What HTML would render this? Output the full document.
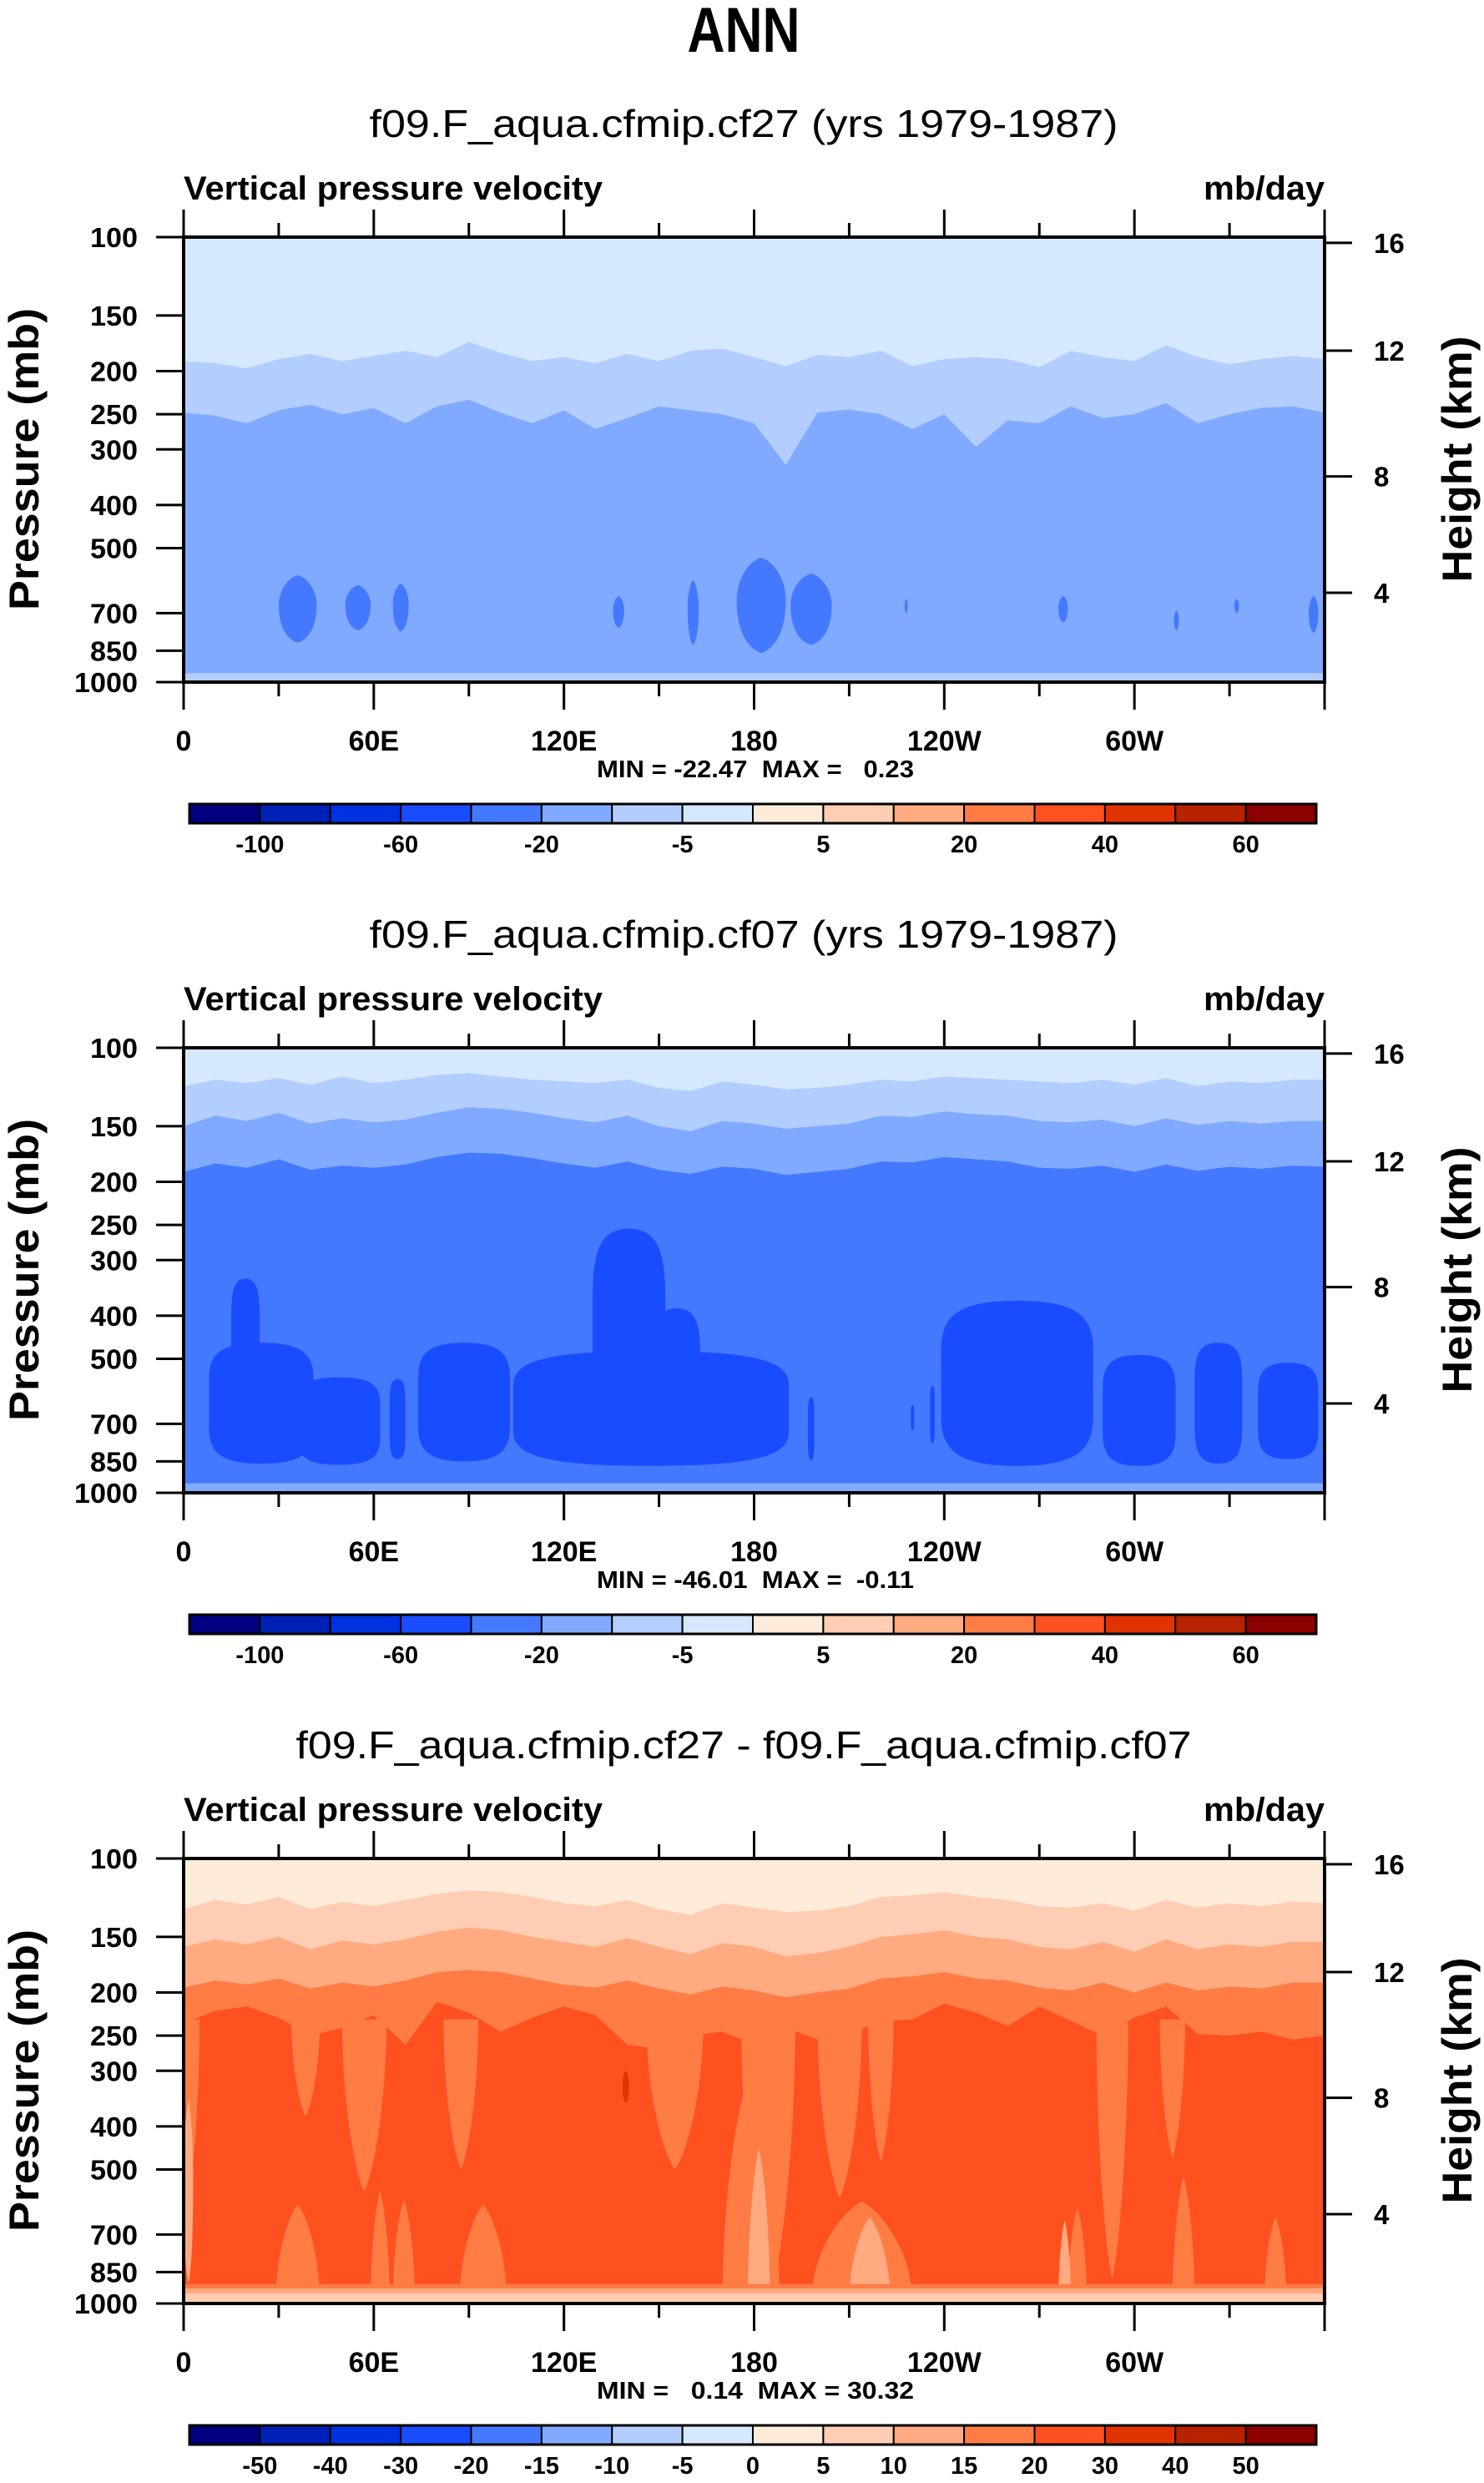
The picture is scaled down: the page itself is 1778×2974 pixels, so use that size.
<!DOCTYPE html>
<html><head><meta charset="utf-8">
<style>
html,body{margin:0;padding:0;background:#fff;}
svg{display:block;}
text{font-family:"Liberation Sans",sans-serif;fill:#000;}
.pre{white-space:pre;}
</style></head>
<body>
<svg id="fig" xmlns="http://www.w3.org/2000/svg" width="1778" height="2974" viewBox="0 0 1778 2974">
<rect x="0" y="0" width="1778" height="2974" fill="#fff"/>
<text x="891" y="62" text-anchor="middle" font-size="76" font-weight="bold" textLength="135" lengthAdjust="spacingAndGlyphs">ANN</text>
</svg>
<script>
// ---------- data ----------
const lons = [0,10,20,30,40,50,60,70,80,90,100,110,120,130,140,150,160,170,180,190,200,210,220,230,240,250,260,270,280,290,300,310,320,330,340,350,360];
const panelTitles = ["f09.F_aqua.cfmip.cf27 (yrs 1979-1987)","f09.F_aqua.cfmip.cf07 (yrs 1979-1987)","f09.F_aqua.cfmip.cf27 - f09.F_aqua.cfmip.cf07"];
const minMaxText = ["MIN = -22.47  MAX =   0.23","MIN = -46.01  MAX =  -0.11","MIN =   0.14  MAX = 30.32"];
const pressureTicks = [100,150,200,250,300,400,500,700,850,1000];
const heightTicks = [16,12,8,4];
const heightTickPressure = [103,180,345,630];
const lonTickLabels = ["0","60E","120E","180","120W","60W"];
const cbColors = ["#000080","#0021b5","#0032e0","#1a4cff","#4479ff","#80aaff","#b3cdff","#d6e8ff","#ffebd9","#ffcdb3","#ffaa80","#ff7c45","#ff5020","#e03300","#b82200","#8b0000"];
const cbLabels12 = ["","-100","","-60","","-20","","-5","","5","","20","","40","","60"];
const cbLabels3 = ["","-50","-40","-30","-20","-15","-10","-5","0","5","10","15","20","30","40","50"];

// panel 1 boundaries (pressure, mb)
const p1A = [190,192,197,188,183,190,185,180,186,172,182,190,186,192,183,190,180,178,186,195,184,186,180,195,188,186,188,196,180,186,190,175,186,193,188,185,188];
const p1B = [248,252,262,245,238,250,242,262,240,232,248,262,245,270,255,240,245,250,262,325,248,244,250,270,250,296,258,262,240,255,250,236,262,250,242,240,248];
const p1Bottom = 955;
const p1BlobLon0 = [30,51,66,135.5,159,174.5,191.5,227.5,276,312.5,331.5,355];
const p1BlobLon1 = [42,59,71,139,162.5,190,204.5,228.5,279,314,333,358];
const p1BlobTop = [575,605,600,640,590,525,570,650,640,690,650,640];
const p1BlobBot = [815,765,770,755,825,860,825,700,735,765,700,775];

// panel 2 boundaries
const p2A = [122,118,120,117,121,116,120,118,115,114,116,118,119,120,118,123,125,119,121,124,123,121,118,119,116,117,118,119,120,118,121,117,122,119,120,118,118];
const p2B = [150,142,146,140,148,144,147,145,140,136,137,140,144,147,142,150,154,146,148,152,150,148,142,143,139,141,142,146,147,145,150,144,149,146,148,146,146];
const p2C = [190,182,186,178,188,184,186,183,176,172,173,177,182,186,180,188,192,185,187,193,190,187,180,181,176,178,180,186,187,184,190,183,189,185,187,184,185];
const p2Bottom = 952;
const p2BlobLon0 = [8,15,36,65,74,104,129,148,197,229.5,235.5,239,290,319,339];
const p2BlobLon1 = [41,24,62,70,103,191,152,163,199,230.5,237,287,313,334,358];
const p2BlobTop = [460,330,550,555,460,480,255,385,610,635,575,370,490,460,510];
const p2BlobBot = [860,630,865,840,850,870,865,845,845,725,775,870,870,860,840];

// panel 3 boundaries
const p3A = [130,124,127,122,130,125,128,124,120,118,119,122,126,128,124,130,134,126,129,132,131,128,122,121,119,122,124,128,129,126,131,124,129,126,128,125,126];
const p3B = [158,152,156,150,160,153,156,152,146,143,145,150,154,158,151,158,164,155,158,166,163,158,150,148,145,150,152,158,160,154,162,152,160,156,158,154,154];
const p3C = [195,188,192,186,196,190,194,188,180,178,180,186,192,195,188,196,202,194,198,205,200,196,186,184,180,186,188,195,198,190,200,190,198,194,196,190,190];
const p3D = [235,220,215,228,250,240,225,262,210,222,245,228,215,225,262,268,250,245,262,240,255,248,232,230,212,222,238,215,232,250,228,215,248,250,245,255,250];
const p3Bottom = [905,925,950];
// streaks: color index into cbColors (11 = ff7c45, 10 = ffaa80, 13 = e03300)
const p3StreakLon0 = [0,34,50,82,146,176,200,216,288,308,29,59,66,87,170,198,279,312,341,178,210,276,0,138.5];
const p3StreakLon1 = [5,43,64,93,164,193,214,224,298,316,43,65,73,102,188,230,285,319,348,185,223,280,3,140.5];
const p3StreakTop = [230,230,230,230,230,230,230,230,230,230,600,560,585,600,300,590,610,520,640,450,640,650,350,300];
const p3StreakBot = [500,380,560,500,500,1000,580,480,880,470,1000,1000,1000,1000,1000,1000,1000,1000,1000,1000,1000,1000,900,355];
const p3StreakCol = [11,11,11,11,11,11,11,11,11,11,11,11,11,11,11,11,11,11,11,10,10,10,10,13];

// ---------- layout ----------
const NS = "http://www.w3.org/2000/svg";
const svg = document.getElementById("fig");
const X0 = 220, X1 = 1587, PH = 533, DY = 971, TOP0 = 284;
function px(lon){ return X0 + lon/360*(X1-X0); }
function py(k,p){ return TOP0 + k*DY + (Math.log10(p)-2)*PH; }
function mk(tag, attrs, parent){
  const e = document.createElementNS(NS, tag);
  for (const a in attrs) e.setAttribute(a, attrs[a]);
  (parent||svg).appendChild(e);
  return e;
}
function bandPath(k, arr){
  let d = "M" + px(0) + "," + py(k,1000);
  for (let i=0;i<lons.length;i++) d += " L" + px(lons[i]).toFixed(1) + "," + py(k,arr[i]).toFixed(1);
  d += " L" + px(360) + "," + py(k,1000) + " Z";
  return d;
}
// mode 0: lens, 1: wide top tapering down, 2: wide bottom tapering up, 3: rounded column
function blobPath(k, l0, l1, pt, pb, mode){
  const x0 = px(l0), x1 = px(l1), xc = (x0+x1)/2, w = (x1-x0)/2;
  const yt = py(k,pt), yb = py(k,Math.min(pb,1000)), h = yb-yt;
  let d;
  if (mode===1){
    d = "M"+x0+","+yt+" L"+x1+","+yt+" C"+x1+","+(yt+h*0.5)+" "+(xc+w*0.4)+","+(yb-h*0.1)+" "+xc+","+yb+
        " C"+(xc-w*0.4)+","+(yb-h*0.1)+" "+x0+","+(yt+h*0.5)+" "+x0+","+yt+" Z";
  } else if (mode===2){
    d = "M"+x0+","+yb+" L"+x1+","+yb+" C"+x1+","+(yb-h*0.5)+" "+(xc+w*0.4)+","+(yt+h*0.1)+" "+xc+","+yt+
        " C"+(xc-w*0.4)+","+(yt+h*0.1)+" "+x0+","+(yb-h*0.5)+" "+x0+","+yb+" Z";
  } else if (mode===3){
    d = "M"+xc+","+yt+" C"+(xc+w*0.8)+","+yt+" "+x1+","+(yt+h*0.1)+" "+x1+","+(yt+h*0.3)+
        " L"+x1+","+(yb-h*0.3)+" C"+x1+","+(yb-h*0.1)+" "+(xc+w*0.8)+","+yb+" "+xc+","+yb+
        " C"+(xc-w*0.8)+","+yb+" "+x0+","+(yb-h*0.1)+" "+x0+","+(yb-h*0.3)+
        " L"+x0+","+(yt+h*0.3)+" C"+x0+","+(yt+h*0.1)+" "+(xc-w*0.8)+","+yt+" "+xc+","+yt+" Z";
  } else {
    d = "M"+xc+","+yt+" C"+(xc+w*0.6)+","+(yt+h*0.05)+" "+x1+","+(yt+h*0.25)+" "+x1+","+(yt+h*0.45)+
        " C"+x1+","+(yb-h*0.25)+" "+(xc+w*0.6)+","+(yb-h*0.05)+" "+xc+","+yb+
        " C"+(xc-w*0.6)+","+(yb-h*0.05)+" "+x0+","+(yb-h*0.25)+" "+x0+","+(yt+h*0.45)+
        " C"+x0+","+(yt+h*0.25)+" "+(xc-w*0.6)+","+(yt+h*0.05)+" "+xc+","+yt+" Z";
  }
  return d;
}

for (let k=0;k<3;k++){
  const g = mk("g", {});
  
  
  const top = TOP0 + k*DY, bot = top + PH;

  const tt = mk("text", {x:891, y:164+k*DY, "text-anchor":"middle", "font-size":46, textLength:(k==2?1073:897), lengthAdjust:"spacingAndGlyphs"}, g);
  tt.textContent = panelTitles[k];
  
  
  const vl = mk("text", {x:220, y:239+k*DY, "font-size":40, "font-weight":"bold", textLength:502, lengthAdjust:"spacingAndGlyphs"}, g);
  vl.textContent = "Vertical pressure velocity";
  
  
  const ul = mk("text", {x:1587, y:239+k*DY, "text-anchor":"end", "font-size":40, "font-weight":"bold", textLength:145, lengthAdjust:"spacingAndGlyphs"}, g);
  ul.textContent = "mb/day";
  
  

  const cg = mk("g", {}, g);
  
  
  let bands, cols, bottomBands;
  if (k==0){ bands=[p1A,p1B]; cols=[7,6,5]; bottomBands=[[p1Bottom,6]]; }
  else if (k==1){ bands=[p2A,p2B,p2C]; cols=[7,6,5,4]; bottomBands=[[p2Bottom,5]]; }
  else { bands=[p3A,p3B,p3C,p3D]; cols=[8,9,10,11,12]; bottomBands=[[p3Bottom[0],11],[p3Bottom[1],10],[p3Bottom[2],9]]; }
  const bg = mk("rect", {x:X0, y:top, width:X1-X0, height:PH, fill:cbColors[cols[0]]}, cg);
  
  
  bands.forEach((arr,i)=>{
    const b = mk("path", {d:bandPath(k,arr), fill:cbColors[cols[i+1]]}, cg);
    
    
  });
  if (k==0){
    for (let i=0;i<p1BlobLon0.length;i++){
      const b = mk("path", {d:blobPath(k,p1BlobLon0[i],p1BlobLon1[i],p1BlobTop[i],p1BlobBot[i],0), fill:cbColors[4]}, cg);
      
      
    }
  } else if (k==1){
    for (let i=0;i<p2BlobLon0.length;i++){
      const b = mk("path", {d:blobPath(k,p2BlobLon0[i],p2BlobLon1[i],p2BlobTop[i],p2BlobBot[i],3), fill:cbColors[3]}, cg);
      
      
    }
  } else {
    for (let i=0;i<p3StreakLon0.length;i++){
      const mode = (i<10) ? 1 : (i<22 ? 2 : 0);
      const b = mk("path", {d:blobPath(k,p3StreakLon0[i],p3StreakLon1[i],p3StreakTop[i],p3StreakBot[i],mode), fill:cbColors[p3StreakCol[i]]}, cg);
      
      
    }
  }
  bottomBands.forEach(bb=>{
    const y = py(k,bb[0]);
    const r = mk("rect", {x:X0, y:y, width:X1-X0, height:bot-y, fill:cbColors[bb[1]]}, cg);
    
    
  });

  const fr = mk("rect", {x:X0, y:top, width:X1-X0, height:PH, fill:"none", stroke:"#000", "stroke-width":4}, g);
  
  

  for (let i=0;i<=12;i++){
    const lon = i*30, x = px(lon), major = (i%2==0);
    const len = major ? 33 : 17;
    const t1 = mk("line", {x1:x, y1:top, x2:x, y2:top-len, stroke:"#000", "stroke-width":3}, g);
    
    
    const t2 = mk("line", {x1:x, y1:bot, x2:x, y2:bot+len, stroke:"#000", "stroke-width":3}, g);
    
    
    if (major && i<12){
      const lb = mk("text", {x:x, y:bot+82, "text-anchor":"middle", "font-size":34, "font-weight":"bold"}, g);
      lb.textContent = lonTickLabels[i/2];
      
      
    }
  }
  pressureTicks.forEach(p=>{
    const y = py(k,p);
    const t = mk("line", {x1:X0, y1:y, x2:X0-33, y2:y, stroke:"#000", "stroke-width":3}, g);
    
    
    const lb = mk("text", {x:165, y:y+12, "text-anchor":"end", "font-size":33, "font-weight":"bold", textLength:(p>=1000?76:57), lengthAdjust:"spacingAndGlyphs"}, g);
    lb.textContent = String(p);
    
    
  });
  heightTicks.forEach((h,i)=>{
    const y = py(k,heightTickPressure[i]);
    const t = mk("line", {x1:X1, y1:y, x2:X1+33, y2:y, stroke:"#000", "stroke-width":3}, g);
    
    
    const lb = mk("text", {x:1646, y:y+12, "font-size":33, "font-weight":"bold"}, g);
    lb.textContent = String(h);
    
    
  });
  const yc = top + 266;
  const pt = mk("text", {x:0, y:0, transform:"translate(46,"+yc+") rotate(-90)", "text-anchor":"middle", "font-size":50, "font-weight":"bold", textLength:362, lengthAdjust:"spacingAndGlyphs"}, g);
  pt.textContent = "Pressure (mb)";
  
  
  const ht = mk("text", {x:0, y:0, transform:"translate(1763,"+yc+") rotate(-90)", "text-anchor":"middle", "font-size":50, "font-weight":"bold", textLength:295, lengthAdjust:"spacingAndGlyphs"}, g);
  ht.textContent = "Height (km)";
  
  
  const mm = mk("text", {x:905, y:931+k*DY, "text-anchor":"middle", "font-size":29, "font-weight":"bold", "class":"pre", textLength:380, lengthAdjust:"spacingAndGlyphs"}, g);
  mm.textContent = minMaxText[k];
  
  

  const cb = mk("g", {}, g);
  
  
  const cx0 = 227, cw = 1350/16, cy = 963+k*DY, ch = 23;
  const labels = (k==2) ? cbLabels3 : cbLabels12;
  for (let i=0;i<16;i++){
    const r = mk("rect", {x:cx0+i*cw, y:cy, width:cw, height:ch, fill:cbColors[i], stroke:"#000", "stroke-width":2}, cb);
    
    
    if (labels[i]){
      const lb = mk("text", {x:cx0+i*cw, y:cy+58, "text-anchor":"middle", "font-size":29, "font-weight":"bold"}, cb);
      lb.textContent = labels[i];
      
      
    }
  }
  const cf = mk("rect", {x:cx0, y:cy, width:1350, height:ch, fill:"none", stroke:"#000", "stroke-width":3}, cb);
  
  
}
</script>
</body></html>
